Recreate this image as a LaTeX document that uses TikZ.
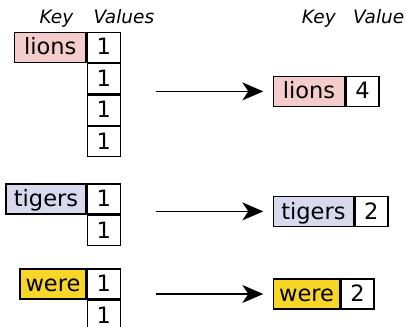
\documentclass[tikz,border=0pt]{standalone}
\usepackage{fontspec}
\setmainfont{DejaVu Sans}
\usepackage{tikz}
\usetikzlibrary{positioning,arrows.meta}

\definecolor{lionpink}{RGB}{244,204,204}
\definecolor{tigerblue}{RGB}{217,217,238}
\definecolor{wereyellow}{RGB}{248,214,40}

\begin{document}
\begin{tikzpicture}[x=1pt,y=1pt,yscale=-1,xscale=1,
  cell/.style={draw,line width=1.4pt,minimum height=30pt,inner xsep=0pt,inner ysep=2pt,
    text height=20.6pt,text depth=5.4pt,font=\fontsize{22.5}{26}\selectfont},
  keybox/.style={cell,minimum width=#1},
  valbox/.style={cell,minimum width=33pt},
  head/.style={anchor=base west,inner sep=0pt,font=\fontsize{18.5}{22}\selectfont\itshape},
  arr/.style={-{Stealth[length=21pt,width=18pt,inset=6pt]},line width=1.4pt,shorten >=9.4pt}]
\useasboundingbox (0,0) rectangle (406,326);
% headers
\node[head] (hk1) at (39.3,23.3) {Key};
\node[head] (hv1) at (93.3,23.3) {Values};
\node[head] (hk2) at (301.7,23.3) {Key};
\node[head] (hv2) at (353,23.3) {Value};
% left: grouped values
\node[keybox=71.7pt,fill=lionpink,anchor=north east] (lionsL) at (86.7,31.7) {lions};
\node[valbox,right=0pt of lionsL] (lv1) {1};
\node[valbox,below=0pt of lv1] (lv2) {1};
\node[valbox,below=0pt of lv2] (lv3) {1};
\node[valbox,below=0pt of lv3] (lv4) {1};
\node[keybox=80pt,fill=tigerblue,anchor=north east] (tigersL) at (86.7,183.3) {tigers};
\node[valbox,right=0pt of tigersL] (tv1) {1};
\node[valbox,below=0pt of tv1] (tv2) {1};
\node[keybox=66pt,fill=wereyellow,anchor=north east] (wereL) at (86.7,268.3) {were};
\node[valbox,right=0pt of wereL] (wv1) {1};
\node[valbox,below=0pt of wv1] (wv2) {1};
% right: reduced
\node[keybox=71.3pt,fill=lionpink,anchor=north west] (lionsR) at (272.7,75.7) {lions};
\node[valbox,right=0pt of lionsR] (lsum) {4};
\node[keybox=80pt,fill=tigerblue,anchor=north west] (tigersR) at (272.7,195.7) {tigers};
\node[valbox,right=0pt of tigersR] (tsum) {2};
\node[keybox=66.3pt,fill=wereyellow,anchor=north west] (wereR) at (272.7,278.3) {were};
\node[valbox,right=0pt of wereR] (wsum) {2};
% arrows
\coordinate (arrx) at (155.7,0);
\draw[arr] (arrx |- lionsR.west) -- (lionsR.west);
\draw[arr] (arrx |- tigersR.west) -- (tigersR.west);
\draw[arr] (arrx |- wereR.west) -- (wereR.west);
\end{tikzpicture}
\end{document}
